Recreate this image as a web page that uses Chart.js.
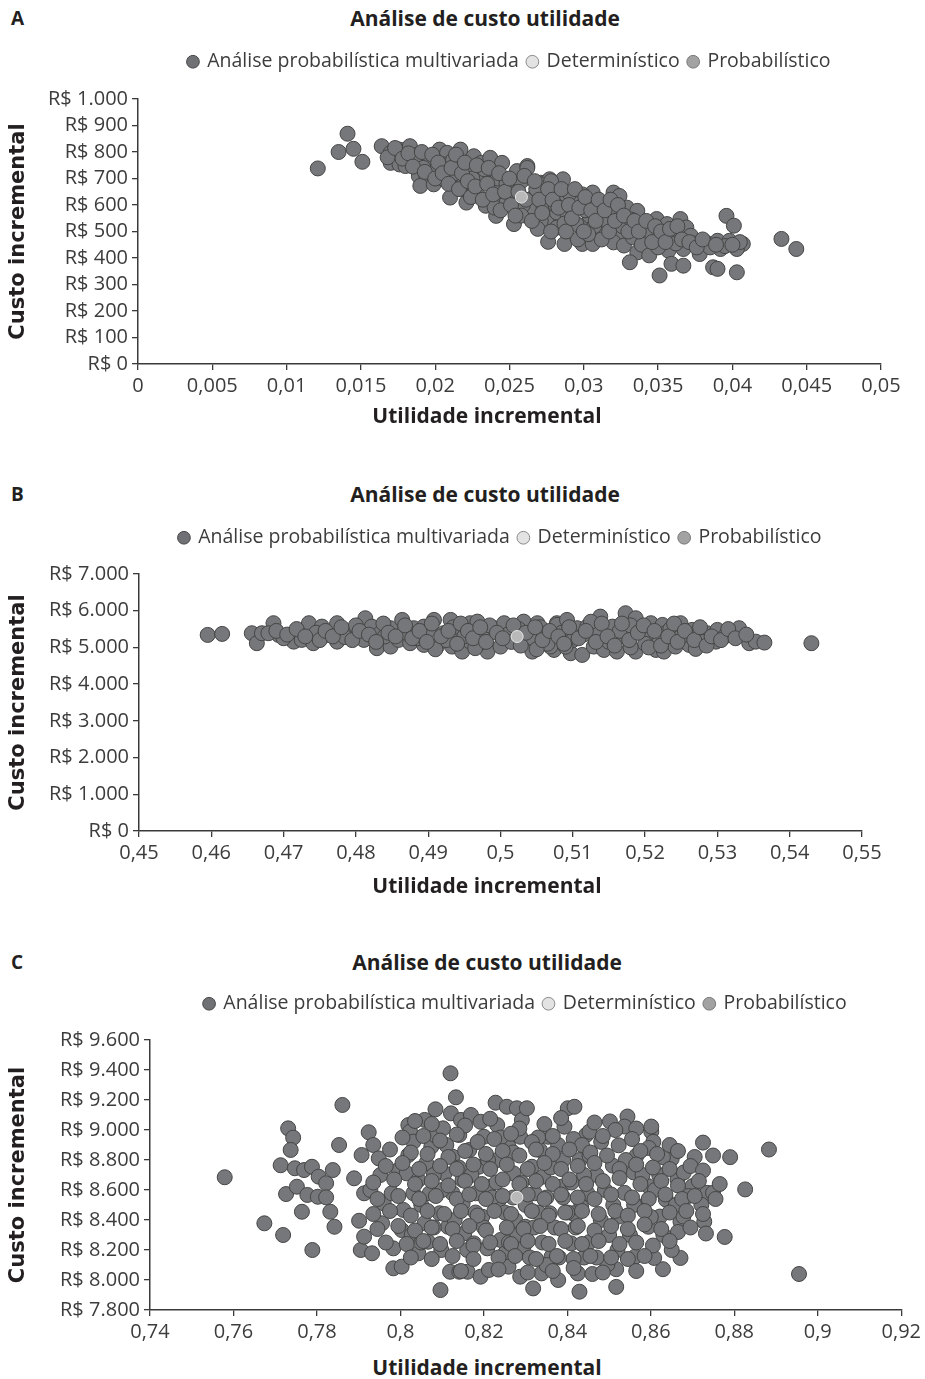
<!DOCTYPE html>
<html lang="pt-BR">
<head>
<meta charset="utf-8">
<title>Análise de custo utilidade</title>
<script src="https://cdn.jsdelivr.net/npm/chart.js@4.4.1/dist/chart.umd.min.js"></script>
<style>
    body { margin: 0; background: #fff; }
    #page { position: relative; width: 925px; height: 1379px; overflow: hidden; font-family: 'Open Sans', sans-serif; color: #231f20; }
    .letter { position: absolute; left: 11px; font-weight: bold; font-size: 19px; line-height: 22px; }
    .title, .xtitle { position: absolute; transform: translateX(-50%); white-space: nowrap; font-weight: bold; }
    .title { font-size: 21px; line-height: 24px; }
    .xtitle { font-size: 21px; line-height: 26px; }
    canvas { position: absolute; left: 0; }
</style>
</head>
<body>
<div id="page">
    <div class="letter" style="top:7px">A</div>
    <div class="title" style="left:485px; top:6px">Análise de custo utilidade</div>
    <canvas id="chartA" width="925" height="362" style="top:43px"></canvas>
    <div class="xtitle" style="left:487px; top:402px">Utilidade incremental</div>

    <div class="letter" style="top:483px">B</div>
    <div class="title" style="left:485px; top:482px">Análise de custo utilidade</div>
    <canvas id="chartB" width="925" height="353" style="top:519px"></canvas>
    <div class="xtitle" style="left:487px; top:872px">Utilidade incremental</div>

    <div class="letter" style="top:951px">C</div>
    <div class="title" style="left:487px; top:950px">Análise de custo utilidade</div>
    <canvas id="chartC" width="925" height="366" style="top:985px"></canvas>
    <div class="xtitle" style="left:487px; top:1354px">Utilidade incremental</div>
</div>
<script>
const seriesNames = ['Análise probabilística multivariada', 'Determinístico', 'Probabilístico'];

// --- Panel A ---
const multiA = [
    [0.0121,738],[0.0141,869],[0.0135,800],[0.0145,812],[0.0151,763],
    [0.0164,822],[0.0170,797],[0.0176,809],[0.0183,822],[0.0170,759],[0.0176,753],[0.0180,747],[0.0188,790],[0.0194,784],
    [0.0203,809],[0.0208,797],[0.0217,809],[0.0189,709],[0.0194,709],[0.0190,672],[0.0199,678],[0.0206,697],[0.0206,753],
    [0.0215,747],[0.0217,703],[0.0210,628],[0.0221,653],[0.0221,609],[0.0226,784],[0.0231,759],[0.0237,778],[0.0245,759],
    [0.0223,728],[0.0230,697],[0.0238,709],[0.0229,634],[0.0234,597],[0.0239,665],[0.0245,634],[0.0241,559],[0.0248,609],
    [0.0253,672],[0.0255,728],[0.0262,747],[0.0253,528],[0.0262,559],[0.0266,590],[0.0271,684],[0.0277,697],[0.0286,697],
    [0.0273,597],[0.0280,647],[0.0275,534],[0.0284,559],[0.0276,461],[0.0287,453],[0.0289,647],[0.0295,634],[0.0302,609],
    [0.0306,647],[0.0298,522],[0.0304,559],[0.0299,453],[0.0306,453],
    [0.0262,740],[0.0271,678],[0.0278,690],[0.0267,634],[0.0275,622],[0.0284,615],[0.0291,640],[0.0299,640],[0.0298,609],
    [0.0264,578],[0.0273,590],[0.0282,571],[0.0289,565],[0.0304,603],[0.0311,609],[0.0320,647],[0.0324,634],[0.0271,540],
    [0.0282,515],[0.0295,528],[0.0313,559],[0.0322,565],[0.0329,590],[0.0336,578],[0.0309,496],[0.0315,503],[0.0324,484],
    [0.0320,459],[0.0327,447],[0.0333,478],[0.0340,515],[0.0341,472],[0.0336,421],[0.0331,384],[0.0349,547],[0.0356,528],
    [0.0365,547],[0.0369,515],[0.0349,465],[0.0361,490],[0.0372,484],[0.0357,428],[0.0367,434],[0.0359,378],[0.0367,371],
    [0.0351,334],[0.0382,459],[0.0390,465],[0.0378,415],[0.0392,434],[0.0398,465],[0.0407,453],[0.0396,559],[0.0401,522],
    [0.0403,434],[0.0387,365],[0.0390,359],[0.0403,346],[0.0433,472],[0.0443,434],
    [0.0196,760],[0.0201,735],[0.0212,770],[0.0219,680],[0.0225,700],[0.0233,735],[0.0242,700],[0.0248,680],[0.0252,640],
    [0.0258,690],[0.0259,600],[0.0268,660],[0.0258,560],[0.0269,510],[0.0281,600],[0.0287,530],[0.0293,580],[0.0301,580],
    [0.0307,520],[0.0312,470],[0.0316,540],[0.0319,590],[0.0326,520],[0.0332,545],[0.0339,450],[0.0345,500],[0.0344,410],
    [0.0353,480],[0.0362,455],[0.0374,455],[0.0385,440],[0.0395,445],[0.0405,460],[0.0213,720],[0.0186,770],[0.0192,740],
    [0.0240,590],[0.0296,470],[0.0303,490],[0.0350,440],
    [0.0168,780],[0.0173,815],[0.0178,775],[0.0182,795],[0.0185,745],[0.0191,800],[0.0193,725],[0.0198,790],[0.0200,700],
    [0.0202,760],[0.0205,720],[0.0209,680],[0.0211,740],[0.0214,790],[0.0216,660],[0.0218,720],[0.0220,760],[0.0222,690],
    [0.0224,630],[0.0227,670],[0.0228,750],[0.0232,620],[0.0235,680],[0.0236,740],[0.0239,640],[0.0243,720],[0.0244,580],
    [0.0247,650],[0.0250,700],[0.0251,600],[0.0254,560],[0.0256,650],[0.0260,710],[0.0261,620],[0.0265,540],[0.0267,690],
    [0.0270,620],[0.0272,570],[0.0276,660],[0.0278,500],[0.0279,620],[0.0283,590],[0.0285,660],[0.0288,500],[0.0290,600],
    [0.0292,550],[0.0294,660],[0.0297,590],[0.0300,500],[0.0301,630],[0.0305,580],[0.0308,540],[0.0310,620],[0.0314,580],
    [0.0317,500],[0.0318,620],[0.0321,540],[0.0323,600],[0.0327,560],[0.0330,500],[0.0334,540],[0.0337,500],[0.0342,540],
    [0.0346,460],[0.0348,520],[0.0352,500],[0.0355,460],[0.0358,510],[0.0363,520],[0.0366,470],[0.0371,460],[0.0376,440],
    [0.0380,470],[0.0389,450],[0.0400,450]
];
const detA = [[0.0258,630]];
const probA = [];
const aXTicks = [0, 0.005, 0.01, 0.015, 0.02, 0.025, 0.03, 0.035, 0.04, 0.045, 0.05];
const aXLabels = ['0', '0,005', '0,01', '0,015', '0,02', '0,025', '0,03', '0,035', '0,04', '0,045', '0,05'];
const aYTicks = [0, 100, 200, 300, 400, 500, 600, 700, 800, 900, 1000];
const aYLabels = ['R$ 0', 'R$ 100', 'R$ 200', 'R$ 300', 'R$ 400', 'R$ 500', 'R$ 600', 'R$ 700', 'R$ 800', 'R$ 900', 'R$ 1.000'];

// --- Panel B ---
const multiB = [
    [0.4595,5341],[0.4615,5368],[0.4656,5387],[0.4663,5115],[0.4670,5387],[0.4686,5660],[0.4693,5341],[0.4679,5387],
    [0.4714,5158],[0.4723,5431],[0.4735,5660],[0.4725,5205],[0.4741,5115],[0.4753,5567],[0.4762,5341],[0.4774,5660],
    [0.4774,5158],[0.4788,5431],[0.4801,5341],[0.4813,5796],[0.4811,5205],[0.4822,5567],[0.4829,4979],[0.4834,5387],
    [0.4848,5524],[0.4848,5023],[0.4864,5750],[0.4859,5205],[0.4875,5115],[0.4880,5524],[0.4894,5069],[0.4894,5567],
    [0.4908,5750],[0.4912,5023],[0.4921,5387],[0.4931,5750],[0.4933,5023],[0.4942,5431],[0.4947,4886],[0.4958,5660],
    [0.4958,5158],[0.4968,5703],[0.4975,5387],[0.4982,4886],[0.4991,5524],[0.5000,5023],[0.5005,5660],[0.5032,5703],
    [0.5037,5069],[0.5051,5660],[0.5044,4886],[0.5062,5297],[0.5074,4932],[0.5078,5660],
    [0.5078,5614],[0.5092,5750],[0.5069,5023],[0.5097,4842],[0.5113,4796],[0.5106,5524],[0.5120,5567],[0.5138,5840],
    [0.5129,5023],[0.5143,4932],[0.5136,5387],[0.5155,5567],[0.5161,4886],[0.5173,5932],[0.5187,5796],[0.5171,5297],
    [0.5187,4886],[0.5194,5477],[0.5208,5660],[0.5208,5297],[0.5215,4932],[0.5224,5614],[0.5228,5387],[0.5226,4886],
    [0.5242,5023],[0.5249,5660],[0.5261,5069],[0.5265,5477],[0.5272,5297],[0.5286,5387],[0.5298,5158],[0.5300,5477],
    [0.5321,5431],[0.5330,5524],[0.5344,5115],[0.5353,5158],[0.5365,5132],[0.5430,5115],
    [0.4700,5250],[0.4745,5400],[0.4785,5280],[0.4800,5600],[0.4840,5300],[0.4870,5400],[0.4885,5250],[0.4900,5450],
    [0.4925,5200],[0.4935,5550],[0.4950,5300],[0.4970,5100],[0.4985,5600],[0.5010,5350],[0.5015,5150],[0.5025,5500],
    [0.5045,5250],[0.5055,5550],[0.5065,5100],[0.5085,5400],[0.5100,5200],[0.5115,5350],[0.5125,5700],[0.5150,5150],
    [0.5165,5450],[0.5180,5600],[0.5200,5100],[0.5220,5200],[0.5235,5500],[0.5250,5300],[0.5280,5150],[0.5310,5300],
    [0.4910,4950],[0.4965,4980],[0.5050,4950],[0.5090,5020],[0.5180,5000],[0.5270,4960],
    [0.4690,5450],[0.4705,5350],[0.4718,5500],[0.4730,5300],[0.4750,5200],[0.4758,5450],[0.4768,5300],[0.4780,5550],
    [0.4795,5200],[0.4805,5450],[0.4818,5350],[0.4828,5150],[0.4838,5650],[0.4845,5400],[0.4855,5300],[0.4868,5600],
    [0.4878,5250],[0.4888,5450],[0.4898,5150],[0.4905,5650],[0.4918,5300],[0.4928,5450],[0.4940,5100],[0.4945,5650],
    [0.4955,5450],[0.4962,5250],[0.4972,5550],[0.4980,5150],[0.4995,5400],[0.5003,5250],[0.5018,5600],[0.5028,5050],
    [0.5035,5400],[0.5048,5550],[0.5058,5200],[0.5068,5450],[0.5080,5300],[0.5088,5100],[0.5095,5550],[0.5108,5250],
    [0.5118,5450],[0.5132,5150],[0.5140,5650],[0.5148,5300],[0.5158,5050],[0.5168,5650],[0.5178,5200],[0.5190,5400],
    [0.5198,5600],[0.5205,5000],[0.5213,5450],[0.5222,5050],[0.5232,5300],[0.5240,5650],[0.5245,5150],[0.5255,5450],
    [0.5268,5200],[0.5276,5550],[0.5285,5050],[0.5292,5300],[0.5305,5200],[0.5315,5500],[0.5325,5250],[0.5340,5350]
];
const detB = [[0.5023,5297]];
const probB = [];
const bXTicks = [0.45, 0.46, 0.47, 0.48, 0.49, 0.5, 0.51, 0.52, 0.53, 0.54, 0.55];
const bXLabels = ['0,45', '0,46', '0,47', '0,48', '0,49', '0,5', '0,51', '0,52', '0,53', '0,54', '0,55'];
const bYTicks = [0, 1000, 2000, 3000, 4000, 5000, 6000, 7000];
const bYLabels = ['R$ 0', 'R$ 1.000', 'R$ 2.000', 'R$ 3.000', 'R$ 4.000', 'R$ 5.000', 'R$ 6.000', 'R$ 7.000'];

// --- Panel C ---
const multiC = [
    [0.7579,8685],[0.8120,9378],[0.8133,9218],[0.7861,9167],[0.7731,9011],[0.7743,8949],[0.7737,8867],[0.7713,8765],
    [0.7747,8745],[0.7769,8733],[0.7788,8755],[0.7804,8689],[0.7822,8645],[0.7838,8733],[0.7853,8900],[0.7726,8573],
    [0.7752,8622],[0.7777,8567],[0.7802,8555],[0.7822,8551],[0.7764,8455],[0.7832,8455],[0.7674,8378],[0.7719,8300],
    [0.7842,8355],[0.7789,8200],[0.7901,8395],[0.7889,8678],[0.7907,8833],[0.7924,8985],[0.7935,8900],[0.7913,8578],
    [0.7928,8600],[0.7948,8811],[0.7905,8200],[0.7932,8178],[0.7913,8289],[0.7983,8211],[0.7983,8078],[0.8003,8089],
    [0.7952,8700],[0.7960,8511],[0.7956,8378],[0.7979,8578],[0.7995,8733],[0.8019,9033],[0.8023,8989],[0.8031,8922],
    [0.8019,8833],[0.8015,8711],[0.8007,8467],[0.8003,8333],[0.8027,8300],[0.8043,8178],[0.8031,8578],[0.8043,8667],
    [0.8058,9067],[0.8062,8778],[0.8058,8378],[0.8066,8255],[0.8070,8578],[0.8074,8889],[0.8084,9138],[0.8082,8967],
    [0.8094,8445],[0.8098,8200],[0.8096,7933],[0.8102,9011],[0.8106,8711],[0.8114,8355],[0.8119,8055],[0.8121,9111],
    [0.8125,8822],[0.8125,8578],[0.8141,8055],[0.8141,8967],[0.8145,9067],[0.8149,8667],[0.8149,8511],[0.8153,8311],
    [0.8161,8055],[0.8165,8867],[0.8169,9100],[0.8176,8244],[0.8180,8578],[0.8188,8755],[0.8192,8022],[0.8192,9055],
    [0.8196,8422],[0.8200,8955],[0.8208,8211],[0.8212,8067],[0.8212,8622],[0.8228,9182],[0.8232,9033],[0.8232,8800],
    [0.8236,8533],[0.8240,8267],[0.8251,8178],[0.8255,9155],[0.8259,8889],[0.8259,8089],[0.8271,8711],[0.8279,9145],
    [0.8275,8400],[0.8287,8955],[0.8291,9067],[0.8303,9145],[0.8299,8355],[0.8287,8022],[0.8295,8222],[0.8315,8755],
    [0.8318,7944],[0.8322,8578],[0.8334,8867],[0.8338,8044],[0.8342,8689],[0.8354,8955],[0.8358,8445],[0.8362,8155],
    [0.8378,8000],[0.8378,8900],[0.8386,8622],[0.8393,9022],[0.8401,9145],[0.8417,9155],[0.8409,8244],[0.8425,8044],
    [0.8429,7922],[0.8429,8800],[0.8433,8489],[0.8445,8967],[0.8448,8578],[0.8413,8445],
    [0.8955,8040],[0.8883,8870],[0.8725,8916],[0.8749,8830],[0.8790,8819],[0.8826,8604],[0.8777,8287],[0.8728,8389],
    [0.8732,8310],[0.8671,8389],[0.8664,8672],[0.8679,8717],[0.8700,8626],[0.8735,8581],[0.8721,8502],[0.8749,8581],
    [0.8650,8808],[0.8629,8819],[0.8601,8989],[0.8606,8921],[0.8601,9023],[0.8544,9090],[0.8537,9023],[0.8502,9057],
    [0.8453,8989],[0.8566,8830],[0.8523,8898],[0.8481,8921],[0.8453,8830],[0.8509,8762],[0.8559,8717],[0.8594,8626],
    [0.8636,8536],[0.8580,8491],[0.8537,8581],[0.8523,8423],[0.8594,8355],[0.8622,8423],[0.8678,8423],
    [0.8671,8147],[0.8629,8072],[0.8608,8147],[0.8563,8157],[0.8517,8072],[0.8517,7954],[0.8496,8104],[0.8453,8253],
    [0.8460,8040],
    [0.8470,8700],[0.8490,8600],[0.8480,8400],[0.8500,8300],[0.8520,8200],[0.8550,8300],[0.8560,8500],[0.8580,8700],
    [0.8610,8600],[0.8630,8300],[0.8650,8200],[0.8470,8150],[0.8540,8800],[0.8620,8700],[0.8660,8500],[0.8690,8560],
    [0.8600,8420],[0.8510,8500],
    [0.8050,8500],[0.8080,8700],[0.8110,8900],[0.8130,8400],[0.8160,8200],[0.8170,8700],[0.8200,8350],[0.8210,8800],
    [0.8230,8650],[0.8250,8450],[0.8260,8250],[0.8270,8850],[0.8290,8650],[0.8300,8500],[0.8310,8150],[0.8320,8350],
    [0.8330,8950],[0.8340,8250],[0.8350,8550],[0.8360,8750],[0.8370,8350],[0.8380,8150],[0.8390,8800],[0.8400,8450],
    [0.8410,8650],[0.8420,8350],[0.8440,8700],[0.8440,8150],[0.8050,8250],[0.8080,8350],[0.8100,8600],[0.8140,8750],
    [0.8180,8450],[0.8220,8550],[0.8240,8950],[0.8280,8300],[0.8350,8100],[0.8270,8550],[0.8330,8450],[0.8390,8550],
    [0.8035,9060],[0.8075,9040],[0.8155,9030],[0.8215,9075],[0.8285,9010],[0.8345,9040],[0.8385,9080],[0.8465,9050],
    [0.8515,9000],[0.8565,9010],
    [0.8005,8950],[0.8055,8960],[0.8095,8930],[0.8135,8970],[0.8185,8920],[0.8225,8940],[0.8265,8975],[0.8315,8920],
    [0.8365,8960],[0.8415,8940],[0.8435,8900],[0.8485,8960],[0.8555,8940],[0.8595,8880],[0.8645,8900],
    [0.7975,8870],[0.8025,8850],[0.8065,8840],[0.8115,8820],[0.8155,8860],[0.8205,8840],[0.8245,8860],[0.8285,8830],
    [0.8325,8870],[0.8365,8840],[0.8405,8870],[0.8455,8850],[0.8495,8830],[0.8575,8860],[0.8615,8840],[0.8665,8860],
    [0.8705,8820],
    [0.7965,8760],[0.8005,8780],[0.8045,8740],[0.8095,8760],[0.8135,8740],[0.8175,8770],[0.8215,8740],[0.8255,8770],
    [0.8305,8740],[0.8345,8780],[0.8385,8740],[0.8425,8760],[0.8465,8780],[0.8525,8740],[0.8565,8770],[0.8605,8750],
    [0.8645,8740],[0.8695,8760],[0.8725,8730],
    [0.7935,8650],[0.7985,8670],[0.8035,8640],[0.8075,8660],[0.8115,8630],[0.8155,8660],[0.8195,8640],[0.8245,8670],
    [0.8285,8640],[0.8325,8660],[0.8365,8640],[0.8405,8670],[0.8445,8640],[0.8485,8660],[0.8525,8680],[0.8575,8640],
    [0.8625,8660],[0.8665,8630],[0.8715,8660],[0.8765,8640],
    [0.7945,8540],[0.7995,8560],[0.8045,8540],[0.8085,8560],[0.8135,8540],[0.8165,8570],[0.8205,8540],[0.8245,8560],
    [0.8305,8570],[0.8345,8540],[0.8385,8570],[0.8425,8550],[0.8465,8540],[0.8505,8570],[0.8555,8550],[0.8595,8540],
    [0.8635,8570],[0.8675,8540],[0.8705,8560],[0.8755,8540],
    [0.7935,8440],[0.7975,8460],[0.8025,8430],[0.8065,8460],[0.8105,8440],[0.8145,8460],[0.8185,8430],[0.8225,8460],
    [0.8265,8440],[0.8315,8460],[0.8355,8430],[0.8395,8450],[0.8435,8460],[0.8475,8440],[0.8515,8460],[0.8545,8430],
    [0.8585,8460],[0.8645,8450],[0.8685,8460],[0.8725,8440],
    [0.7945,8340],[0.7995,8360],[0.8035,8330],[0.8075,8350],[0.8125,8340],[0.8165,8360],[0.8205,8330],[0.8255,8350],
    [0.8295,8340],[0.8335,8360],[0.8385,8340],[0.8425,8360],[0.8465,8330],[0.8505,8360],[0.8545,8340],[0.8585,8370],
    [0.8625,8340],[0.8665,8320],[0.8695,8350],
    [0.7965,8250],[0.8015,8240],[0.8055,8260],[0.8095,8240],[0.8135,8260],[0.8175,8230],[0.8215,8250],[0.8265,8240],
    [0.8305,8260],[0.8355,8240],[0.8395,8260],[0.8435,8240],[0.8475,8260],[0.8525,8240],[0.8565,8250],[0.8605,8230],
    [0.8645,8260],
    [0.8025,8150],[0.8075,8140],[0.8125,8160],[0.8175,8140],[0.8235,8150],[0.8275,8160],[0.8325,8140],[0.8375,8160],
    [0.8415,8140],[0.8455,8160],[0.8505,8150],[0.8545,8140],[0.8585,8160],
    [0.8145,8060],[0.8235,8070],[0.8305,8050],[0.8365,8060],[0.8415,8080],[0.8485,8050],[0.8565,8060]
];
const detC = [[0.8279,8551]];
const probC = [];
const cXTicks = [0.74, 0.76, 0.78, 0.8, 0.82, 0.84, 0.86, 0.88, 0.9, 0.92];
const cXLabels = ['0,74', '0,76', '0,78', '0,8', '0,82', '0,84', '0,86', '0,88', '0,9', '0,92'];
const cYTicks = [7800, 8000, 8200, 8400, 8600, 8800, 9000, 9200, 9400, 9600];
const cYLabels = ['R$ 7.800', 'R$ 8.000', 'R$ 8.200', 'R$ 8.400', 'R$ 8.600', 'R$ 8.800', 'R$ 9.000', 'R$ 9.200', 'R$ 9.400', 'R$ 9.600'];

// legend swatches differ a bit from the plotted marks
const legendFill = ['#707174', '#e3e3e3', '#a2a2a2'];
const legendStroke = ['#454545', '#8a8a8a', '#777777'];

const axisColor = '#3a3a3a';
const tickColor = '#3c3c3c';

function toPoints(pairs) {
    return pairs.map(p => ({ x: p[0], y: p[1] }));
}

function makeScale(ticks, labels, extra) {
    return Object.assign({
        type: 'linear',
        min: ticks[0],
        max: ticks[ticks.length - 1],
        afterBuildTicks: scale => { scale.ticks = ticks.map(v => ({ value: v })); },
        ticks: {
            autoSkip: false,
            maxRotation: 0,
            callback: (value, index) => labels[index],
            color: tickColor,
            font: { family: "'Open Sans', sans-serif", size: 20 },
            padding: 4
        },
        grid: { display: true, drawOnChartArea: false, drawTicks: true, tickLength: 6, color: axisColor, lineWidth: 1.3 },
        border: { display: true, color: axisColor, width: 1.5 }
    }, extra);
}

function drawPanel(id, panel) {
    const ctx = document.getElementById(id).getContext('2d');
    const canvasH = ctx.canvas.height;

    // push the plot area down below the legend
    const legendSpace = {
        id: 'legendSpace',
        beforeInit(chart) {
            const fit = chart.legend.fit;
            chart.legend.fit = function () {
                fit.bind(chart.legend)();
                this.height = panel.plotTop;
            };
        }
    };

    new Chart(ctx, {
        type: 'scatter',
        data: {
            datasets: [{
                label: seriesNames[0],
                data: toPoints(panel.multi),
                backgroundColor: '#76777a',
                borderColor: '#454545',
                borderWidth: 1,
                pointRadius: 7.5,
                pointStyle: 'circle',
                order: 2
            }, {
                label: seriesNames[1],
                data: toPoints(panel.det),
                backgroundColor: '#b9b9b9',
                borderColor: '#e8e8e8',
                borderWidth: 1,
                pointRadius: 6,
                pointStyle: 'circle',
                order: 0
            }, {
                label: seriesNames[2],
                data: toPoints(panel.prob),
                backgroundColor: '#a2a2a2',
                borderColor: '#777777',
                borderWidth: 1,
                pointRadius: 7.5,
                pointStyle: 'circle',
                order: 1
            }]
        },
        options: {
            responsive: false,
            animation: false,
            events: [],
            layout: { padding: { left: 0, right: panel.padRight, top: 0, bottom: 0 } },
            plugins: {
                legend: {
                    position: 'top',
                    align: 'center',
                    fullSize: false,
                    labels: {
                        usePointStyle: true,
                        pointStyle: 'circle',
                        boxWidth: 9,
                        boxHeight: 9,
                        padding: 9,
                        color: tickColor,
                        font: { family: "'Open Sans', sans-serif", size: 19.5 },
                        sort: (a, b) => a.datasetIndex - b.datasetIndex,
                        generateLabels: function (chart) {
                            const items = Chart.defaults.plugins.legend.labels.generateLabels(chart);
                            items.forEach(item => {
                                item.fillStyle = legendFill[item.datasetIndex];
                                item.strokeStyle = legendStroke[item.datasetIndex];
                                item.lineWidth = 1;
                            });
                            return items;
                        }
                    }
                },
                tooltip: { enabled: false }
            },
            scales: {
                x: makeScale(panel.xTicks, panel.xLabels, {
                    position: 'bottom',
                    afterFit: scale => { scale.height = canvasH - panel.plotBottom; }
                }),
                y: makeScale(panel.yTicks, panel.yLabels, {
                    position: 'left',
                    afterFit: scale => { scale.width = panel.plotLeft; },
                    title: {
                        display: true,
                        text: 'Custo incremental',
                        color: '#231f20',
                        font: { family: "'DejaVu Sans', sans-serif", weight: 'bold', size: 21 },
                        padding: { top: 6, bottom: 0 }
                    }
                })
            }
        },
        plugins: [legendSpace]
    });
}

drawPanel('chartA', {
    multi: multiA, det: detA, prob: probA,
    xTicks: aXTicks, xLabels: aXLabels, yTicks: aYTicks, yLabels: aYLabels,
    plotLeft: 138, padRight: 44, plotTop: 56, plotBottom: 321
});

drawPanel('chartB', {
    multi: multiB, det: detB, prob: probB,
    xTicks: bXTicks, xLabels: bXLabels, yTicks: bYTicks, yLabels: bYLabels,
    plotLeft: 139, padRight: 63, plotTop: 55, plotBottom: 312
});

drawPanel('chartC', {
    multi: multiC, det: detC, prob: probC,
    xTicks: cXTicks, xLabels: cXLabels, yTicks: cYTicks, yLabels: cYLabels,
    plotLeft: 150, padRight: 14, plotTop: 55, plotBottom: 325
});
</script>
</body>
</html>
